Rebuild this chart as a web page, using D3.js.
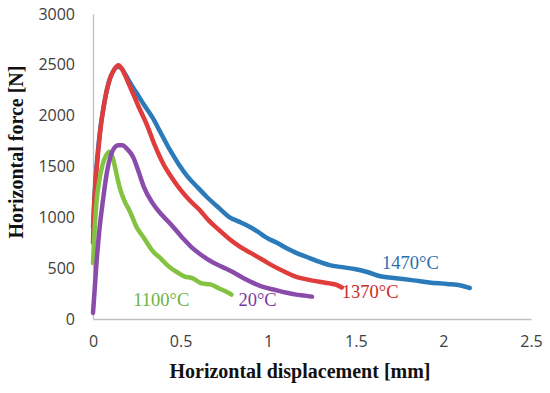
<!DOCTYPE html>
<html>
<head>
<meta charset="utf-8">
<script src="https://cdn.jsdelivr.net/npm/d3@7"></script>
<style>
  body { margin: 0; background: #fff; }
  .tick text { font-family: "Open Sans", "Liberation Sans", sans-serif; font-size: 16px; fill: #404040; }
  .axis path { stroke: #bfbfbf; stroke-width: 1.3; }
  .title { font-family: "Liberation Serif", serif; font-weight: bold; font-size: 20px; fill: #111; }
  .lbl { font-family: "Liberation Serif", serif; font-size: 18.5px; }
</style>
</head>
<body>
<div id="dataViz"></div>
<script>
// curves: [displacement mm, force N]
let blue1470 = [[0,900],[0.01,1250],[0.025,1600],[0.04,1850],[0.06,2080],[0.08,2260],[0.1,2380],[0.12,2450],[0.14,2480],[0.16,2470],[0.19,2390],[0.22,2300],[0.25,2220],[0.29,2110],[0.34,1980],[0.39,1820],[0.44,1660],[0.49,1520],[0.54,1400],[0.6,1290],[0.65,1200],[0.72,1090],[0.78,1000],[0.83,960],[0.88,920],[0.94,860],[0.99,800],[1.05,750],[1.1,700],[1.16,650],[1.22,610],[1.28,570],[1.35,530],[1.42,510],[1.5,490],[1.57,460],[1.64,420],[1.73,400],[1.83,380],[1.92,360],[2.02,345],[2.1,330],[2.15,305]];
let red1370 = [[0,750],[0.005,1050],[0.015,1350],[0.03,1650],[0.045,1900],[0.06,2080],[0.08,2260],[0.1,2380],[0.12,2450],[0.145,2495],[0.165,2460],[0.19,2370],[0.22,2250],[0.26,2090],[0.31,1900],[0.35,1720],[0.4,1530],[0.45,1390],[0.5,1270],[0.55,1170],[0.61,1070],[0.66,970],[0.72,875],[0.78,785],[0.84,710],[0.9,650],[0.97,580],[1.03,520],[1.1,460],[1.16,415],[1.22,390],[1.28,370],[1.35,350],[1.39,335],[1.42,310]];
let green1100 = [[0,550],[0.01,900],[0.02,1150],[0.035,1350],[0.055,1520],[0.075,1610],[0.095,1645],[0.11,1600],[0.125,1500],[0.14,1380],[0.16,1250],[0.18,1160],[0.21,1060],[0.25,900],[0.29,800],[0.34,670],[0.39,590],[0.43,520],[0.47,470],[0.52,420],[0.57,400],[0.62,350],[0.67,340],[0.72,300],[0.77,260],[0.79,240]];
let purple20 = [[0,60],[0.01,300],[0.02,550],[0.035,850],[0.057,1170],[0.08,1450],[0.1,1600],[0.12,1680],[0.145,1710],[0.17,1710],[0.19,1680],[0.23,1590],[0.26,1450],[0.29,1300],[0.34,1140],[0.39,1030],[0.44,940],[0.51,800],[0.56,710],[0.61,640],[0.68,560],[0.74,510],[0.8,460],[0.86,400],[0.92,350],[0.97,315],[1.03,290],[1.1,260],[1.16,240],[1.21,230],[1.25,220]];

let seriesNames = ["1470°C", "1370°C", "1100°C", "20°C"];
let seriesColors = ["#2b7bba", "#e03c3c", "#84c241", "#8a4cab"];
let labelColors = ["#2a6db0", "#cc2929", "#6db33f", "#7a3a9e"];
// label anchors in data units [x mm, y N]
let labelAt = [[1.65, 490], [1.42, 208], [0.23, 128], [0.83, 128]];

let xTicks = [0, 0.5, 1, 1.5, 2, 2.5];
let yTicks = [0, 500, 1000, 1500, 2000, 2500, 3000];

let width = 550, height = 393;

let svg = d3.select("#dataViz")
    .append("svg")
    .attr("width", width)
    .attr("height", height);

let x = d3.scaleLinear().domain([0, 2.5]).range([93, 531]);
let y = d3.scaleLinear().domain([0, 3000]).range([319, 14]);

// axes
svg.append("g")
    .attr("class", "axis")
    .attr("transform", "translate(0," + y(0) + ")")
    .call(d3.axisBottom(x).tickValues(xTicks).tickFormat(d3.format("")).tickSize(0).tickPadding(17));

svg.append("g")
    .attr("class", "axis")
    .attr("transform", "translate(" + x(0) + ",0)")
    .call(d3.axisLeft(y).tickValues(yTicks).tickFormat(d3.format("d")).tickSize(0).tickPadding(18));

// curves
let allSeries = [blue1470, red1370, green1100, purple20];
let line = d3.line()
    .curve(d3.curveMonotoneX)
    .x(function (d) { return x(d[0]) })
    .y(function (d) { return y(d[1]) });

allSeries.forEach(function (s, i) {
    svg.append("path")
        .datum(s)
        .attr("fill", "none")
        .attr("stroke", seriesColors[i])
        .attr("stroke-width", 4.5)
        .attr("stroke-linejoin", "round")
        .attr("stroke-linecap", "round")
        .attr("d", line);
});

// series labels
seriesNames.forEach(function (n, i) {
    svg.append("text")
        .attr("class", "lbl")
        .attr("x", x(labelAt[i][0]))
        .attr("y", y(labelAt[i][1]))
        .attr("fill", labelColors[i])
        .text(n);
});

// axis titles
svg.append("text")
    .attr("class", "title")
    .attr("x", 300)
    .attr("y", 378)
    .attr("text-anchor", "middle")
    .text("Horizontal displacement [mm]");

svg.append("text")
    .attr("class", "title")
    .attr("transform", "translate(23,152) rotate(-90)")
    .attr("text-anchor", "middle")
    .text("Horizontal force [N]");
</script>
</body>
</html>
